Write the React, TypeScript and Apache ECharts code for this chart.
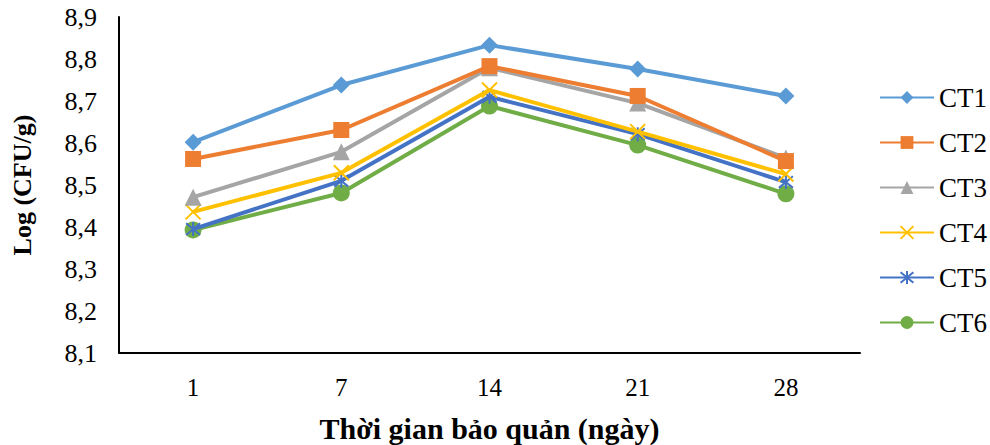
import React, { useEffect, useRef } from "react";
import * as echarts from "echarts";

const categories = ["1", "7", "14", "21", "28"];
const seriesNames = ["CT1", "CT2", "CT3", "CT4", "CT5", "CT6"];
const ct1 = [8.602, 8.738, 8.833, 8.776, 8.712];
const ct2 = [8.562, 8.631, 8.783, 8.712, 8.557];
const ct3 = [8.471, 8.579, 8.779, 8.695, 8.564];
const ct4 = [8.436, 8.529, 8.726, 8.627, 8.526];
const ct5 = [8.395, 8.510, 8.710, 8.621, 8.507];
const ct6 = [8.393, 8.481, 8.688, 8.595, 8.479];
const allValues = [ct1, ct2, ct3, ct4, ct5, ct6];

const colors = ["#5B9BD5", "#ED7D31", "#A5A5A5", "#FFC000", "#4472C4", "#70AD47"];
const crossPath = "path://M0,0 L10,10 M10,0 L0,10";
const starPath = "path://M0,0 L10,10 M10,0 L0,10 M5,-1 L5,11";
const symbols = ["diamond", "rect", "triangle", crossPath, starPath, "circle"];
const symbolSizes = [17, 16, 17, 15, 14, 17];

export default function App() {
  const ref = useRef<HTMLDivElement>(null);
  useEffect(() => {
    document.body.style.margin = "0";
    if (!ref.current) return;
    const chart = echarts.init(ref.current, undefined, { renderer: "svg" });
    const font = "Liberation Serif";
    const series = seriesNames.map((name, i) => {
      const isStroke = i === 3 || i === 4;
      return {
        name,
        type: "line",
        data: allValues[i],
        symbol: symbols[i],
        symbolSize: symbolSizes[i],
        showAllSymbol: true,
        lineStyle: { color: colors[i], width: 4 },
        itemStyle: isStroke
          ? { color: "none", borderColor: colors[i], borderWidth: 2 }
          : { color: colors[i], borderColor: colors[i], borderWidth: 0 },
        z: 2 + (5 - i),
      };
    });
    chart.setOption({
      animation: false,
      backgroundColor: "#ffffff",
      textStyle: { fontFamily: font },
      grid: {
        left: 119,
        right: 130,
        top: 17,
        bottom: 92,
        containLabel: false,
        outerBoundsMode: "none",
      },
      legend: {
        orient: "vertical",
        left: 879,
        top: 84,
        padding: 0,
        itemWidth: 54,
        itemHeight: 16,
        itemGap: 18,
        textStyle: { fontFamily: font, fontSize: 27, color: "#000" },
        data: seriesNames,
      },
      xAxis: {
        type: "category",
        data: categories,
        boundaryGap: true,
        axisLine: { lineStyle: { color: "#000", width: 2 } },
        axisTick: { show: false },
        axisLabel: { fontFamily: font, fontSize: 25, color: "#000", margin: 22 },
        name: "Thời gian bảo quản (ngày)",
        nameLocation: "middle",
        nameGap: 60,
        nameTextStyle: { fontFamily: font, fontSize: 30, fontWeight: "bold", color: "#000" },
      },
      yAxis: {
        type: "value",
        min: 8.1,
        max: 8.9,
        interval: 0.1,
        splitLine: { show: false },
        axisLine: { show: true, lineStyle: { color: "#000", width: 2 } },
        axisTick: { show: false },
        axisLabel: {
          fontFamily: font,
          fontSize: 26,
          color: "#000",
          margin: 22,
          formatter: (v: number) => v.toFixed(1).replace(".", ","),
        },
        name: "Log (CFU/g)",
        nameLocation: "middle",
        nameGap: 84,
        nameRotate: 90,
        nameTextStyle: { fontFamily: font, fontSize: 26, fontWeight: "bold", color: "#000" },
      },
      series,
    });
    return () => chart.dispose();
  }, []);
  return <div ref={ref} style={{ width: 990, height: 445 }} />;
}
